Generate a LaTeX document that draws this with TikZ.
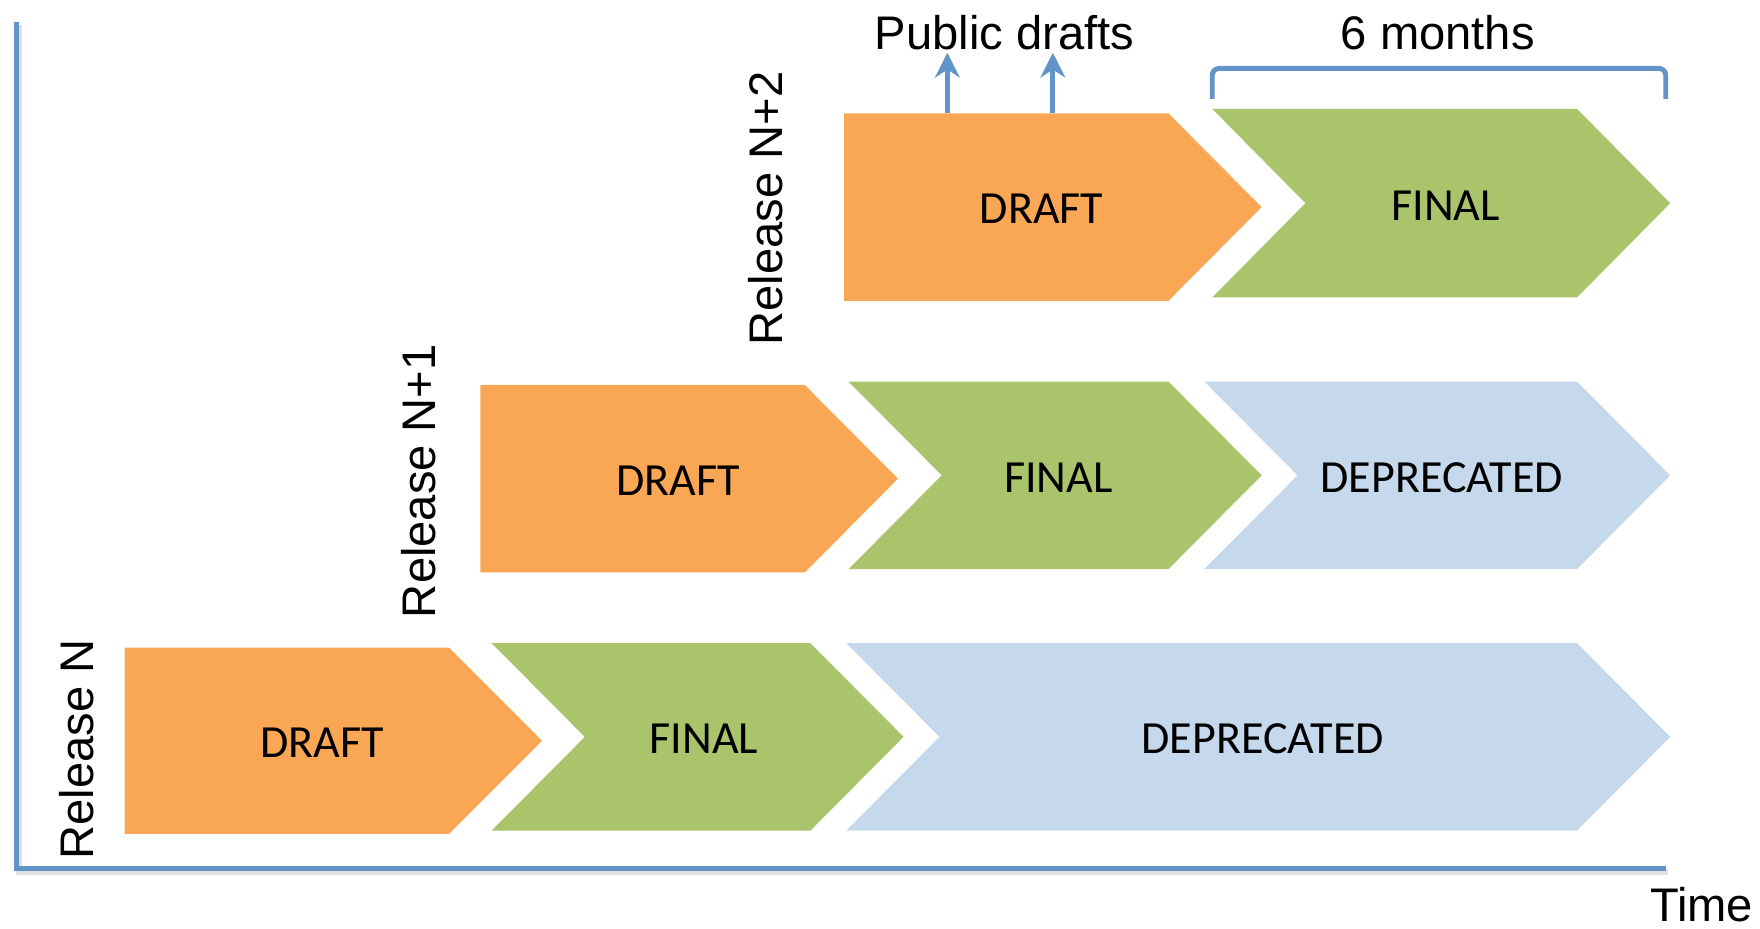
\documentclass[tikz,border=0pt]{standalone}
\usepackage{fontspec}
\setmainfont{Liberation Sans}
\newfontfamily\boxfont{Carlito}
\usetikzlibrary{arrows.meta}
\definecolor{draftc}{HTML}{FAA755}
\definecolor{finalc}{HTML}{A9C46B}
\definecolor{deprc}{HTML}{C5D8EC}
\definecolor{axisc}{HTML}{6194C8}
\tikzset{
  boxtext/.style={font=\boxfont\fontsize{20.5}{24}\selectfont, inner sep=0pt, text depth=0pt},
  lbl/.style={font=\fontsize{21}{25}\selectfont, inner sep=0pt},
  rlbl/.style={lbl, rotate=90, anchor=base west},
  blueline/.style={draw=axisc, line width=2.2pt},
  shadowline/.style={draw=black!12, line width=2.4pt},
  tip/.style={-{Stealth[length=11pt,width=11pt,inset=3.5pt]}},
}
\begin{document}
\begin{tikzpicture}[x=0.5pt,y=-0.5pt]
\useasboundingbox (0,0) rectangle (1568,827.6);
% axes
\draw[shadowline] (17,22) -- (17,777) -- (1486,777);
\draw[blueline] (14.5,20) -- (14.5,774) -- (1484,774);
\node[lbl, anchor=base] (time) at (1516,821) {Time};

% Release N
\fill[draftc] (111,577) -- (400,577) -- (483,660) -- (400,743) -- (111,743) -- cycle;
\fill[finalc] (438,573) -- (722,573) -- (805,656.5) -- (722,740) -- (438,740) -- (521,656.5) -- cycle;
\fill[deprc] (754,573) -- (1405,573) -- (1488,656.5) -- (1405,740) -- (754,740) -- (837,656.5) -- cycle;
\node[boxtext] (d0) at (287,662) {DRAFT};
\node[boxtext] (f0) at (627,658.5) {FINAL};
\node[boxtext] (p0) at (1125,658) {DEPRECATED};

% Release N+1
\fill[draftc] (428,343) -- (717,343) -- (800,426.5) -- (717,510) -- (428,510) -- cycle;
\fill[finalc] (756,340) -- (1041,340) -- (1124,423.5) -- (1041,507) -- (756,507) -- (839,423.5) -- cycle;
\fill[deprc] (1073,340) -- (1405,340) -- (1488,423.5) -- (1405,507) -- (1073,507) -- (1156,423.5) -- cycle;
\node[boxtext] (d1) at (604,428.5) {DRAFT};
\node[boxtext] (f1) at (943,426) {FINAL};
\node[boxtext] (p1) at (1284.5,425.5) {DEPRECATED};

% Release N+2
\fill[draftc] (752,101) -- (1041,101) -- (1124,184.5) -- (1041,268) -- (752,268) -- cycle;
\fill[finalc] (1080,97) -- (1405,97) -- (1488,181) -- (1405,265) -- (1080,265) -- (1163,181) -- cycle;
\node[boxtext] (d2) at (928,186) {DRAFT};
\node[boxtext] (f2) at (1288,183.5) {FINAL};

% release labels
\node[rlbl] (rn) at (83,766) {Release N};
\node[rlbl] (rn1) at (388,551) {Release N+1};
\node[rlbl] (rn2) at (697,308) {Release N+2};

% public drafts
\node[lbl, anchor=base] (pub) at (895,44.5) {Public drafts};
\coordinate (a1s) at (844,101);
\coordinate (a1e) at (844,47);
\coordinate (a2s) at (938,101);
\coordinate (a2e) at (938,47);
\draw[blueline, tip] (a1s) -- (a1e);
\draw[blueline, tip] (a2s) -- (a2e);

% 6 months bracket
\node[lbl, anchor=base] (six) at (1281,44.5) {6 months};
\coordinate (b1) at (1080,88);
\coordinate (b2) at (1484,88);
\draw[blueline, rounded corners=3pt] (b1) -- (1080,61) -- (1484,61) -- (b2);
\end{tikzpicture}
\end{document}
